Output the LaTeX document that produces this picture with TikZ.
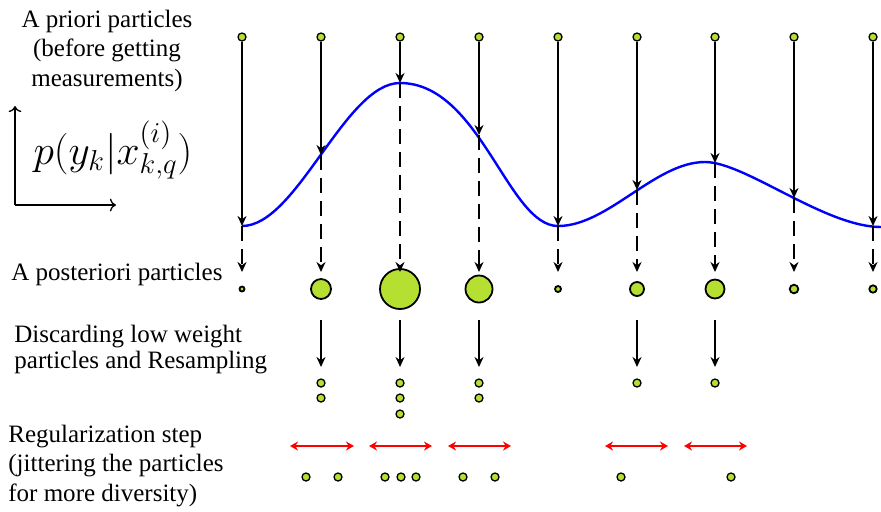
\documentclass[tikz,border=0pt]{standalone}
\usepackage{fontspec}
\setmainfont{Liberation Serif}
\newfontfamily\labelfont{Liberation Serif}
\usetikzlibrary{arrows.meta}
\definecolor{partgreen}{RGB}{181,224,50}
\definecolor{pdfblue}{RGB}{0,0,255}
\definecolor{jitred}{RGB}{255,0,0}

\begin{document}
\begin{tikzpicture}[x=0.5pt, y=-0.5pt]
    \tikzstyle{every node}=[align=center];
    \tikzstyle{txt} = [inner sep=0, font=\labelfont\fontsize{12.5}{14.6}\selectfont]
    \tikzstyle{particle} = [circle, draw, line width=0.65pt, fill=partgreen, inner sep=0, minimum size=4pt]
    \tikzstyle{posterior} = [circle, draw, line width=0.9pt, fill=partgreen, inner sep=0]
    \tikzstyle{flow} = [-{Stealth[length=5pt, width=4.5pt]}, line width=1pt]
    \tikzstyle{weighting} = [flow, dash pattern=on 7.5pt off 4pt]
    \tikzstyle{jitter} = [{Stealth[length=4pt, width=4.5pt]}-{Stealth[length=4pt, width=4.5pt]}, line width=1pt, draw=jitred]
    \tikzstyle{axis} = [->, line width=0.65pt]
    \tikzstyle{density} = [draw=pdfblue, line width=1.2pt]

    \useasboundingbox (0,0) rectangle (881,511);

    % left column texts
    \node[txt, anchor=north] (PrioriText) at (107,10) {A priori particles \\ (before getting \\ measurements)};
    \node[txt, font=\fontsize{20}{24}\selectfont] (Likelihood) at (113,150) {$p(y_k\big|x^{(i)}_{k,q})$};
    \node[txt, anchor=base west] (PosterioriText) at (11,280) {A posteriori particles};
    \node[txt, anchor=north west, align=left] (ResampleText) at (14,325) {Discarding low weight \\[-1.5pt] particles and Resampling};
    \node[txt, anchor=north west, align=left] (RegularText) at (8,425) {Regularization step \\ (jittering the particles \\ for more diversity)};

    \coordinate (Origin) at (15,205);
    \coordinate (YEnd) at (15,106);
    \coordinate (XEnd) at (116,205);
    \draw[axis] (Origin) -- (YEnd);
    \draw[axis] (Origin) -- (XEnd);

    % likelihood curve
    \draw[density] (242,226) .. controls (297,226) and (345,83) .. (400,83)
        .. controls (480,83) and (508,226) .. (558,226)
        .. controls (608,226) and (655,162) .. (705,162)
        .. controls (745,162) and (825,227) .. (881,227);

    % a priori particles
    \node[particle] (Prior1) at (242,37) {};
    \node[particle] (Prior2) at (321,37) {};
    \node[particle] (Prior3) at (400,37) {};
    \node[particle] (Prior4) at (479,37) {};
    \node[particle] (Prior5) at (558,37) {};
    \node[particle] (Prior6) at (637,37) {};
    \node[particle] (Prior7) at (715,37) {};
    \node[particle] (Prior8) at (794,37) {};
    \node[particle] (Prior9) at (873,37) {};

    \coordinate (Curve1) at (242,226);
    \coordinate (Curve2) at (321,155);
    \coordinate (Curve3) at (400,83);
    \coordinate (Curve4) at (479,135);
    \coordinate (Curve5) at (558,226);
    \coordinate (Curve6) at (637,190);
    \coordinate (Curve7) at (715,163);
    \coordinate (Curve8) at (794,198);
    \coordinate (Curve9) at (873,226);

    % a posteriori particles
    \node[posterior, minimum size=2.5pt] (Post1) at (242,289) {};
    \node[posterior, minimum size=10pt] (Post2) at (321,289) {};
    \node[posterior, minimum size=20pt] (Post3) at (400,289) {};
    \node[posterior, minimum size=13.5pt] (Post4) at (479,289) {};
    \node[posterior, minimum size=3pt] (Post5) at (558,289) {};
    \node[posterior, minimum size=7pt] (Post6) at (637,289) {};
    \node[posterior, minimum size=9.5pt] (Post7) at (715,289) {};
    \node[posterior, minimum size=4.3pt] (Post8) at (794,289) {};
    \node[posterior, minimum size=3.7pt] (Post9) at (873,289) {};

    \coordinate (Tip1) at (242,272);
    \coordinate (Tip2) at (321,272);
    \coordinate (Tip3) at (400,272);
    \coordinate (Tip4) at (479,272);
    \coordinate (Tip5) at (558,272);
    \coordinate (Tip6) at (637,272);
    \coordinate (Tip7) at (715,272);
    \coordinate (Tip8) at (794,272);
    \coordinate (Tip9) at (873,272);

    \draw[flow] (Prior1) -- (Curve1);
    \draw[flow] (Prior2) -- (Curve2);
    \draw[flow] (Prior3) -- (Curve3);
    \draw[flow] (Prior4) -- (Curve4);
    \draw[flow] (Prior5) -- (Curve5);
    \draw[flow] (Prior6) -- (Curve6);
    \draw[flow] (Prior7) -- (Curve7);
    \draw[flow] (Prior8) -- (Curve8);
    \draw[flow] (Prior9) -- (Curve9);

    \draw[weighting] (Curve1) -- (Tip1);
    \draw[weighting] (Curve2) -- (Tip2);
    \draw[weighting] (Curve3) -- (Tip3);
    \draw[weighting] (Curve4) -- (Tip4);
    \draw[weighting] (Curve5) -- (Tip5);
    \draw[weighting] (Curve6) -- (Tip6);
    \draw[weighting] (Curve7) -- (Tip7);
    \draw[weighting] (Curve8) -- (Tip8);
    \draw[weighting] (Curve9) -- (Tip9);

    % resampling
    \coordinate (From2) at (321,320);  \coordinate (To2) at (321,367);
    \coordinate (From3) at (400,320);  \coordinate (To3) at (400,367);
    \coordinate (From4) at (479,320);  \coordinate (To4) at (479,367);
    \coordinate (From6) at (637,320);  \coordinate (To6) at (637,367);
    \coordinate (From7) at (715,320);  \coordinate (To7) at (715,367);
    \draw[flow] (From2) -- (To2);
    \draw[flow] (From3) -- (To3);
    \draw[flow] (From4) -- (To4);
    \draw[flow] (From6) -- (To6);
    \draw[flow] (From7) -- (To7);

    \node[particle] (Res2a) at (321,383) {};
    \node[particle] (Res2b) at (321,398) {};
    \node[particle] (Res3a) at (400,383) {};
    \node[particle] (Res3b) at (400,398) {};
    \node[particle] (Res3c) at (400,414) {};
    \node[particle] (Res4a) at (479,383) {};
    \node[particle] (Res4b) at (479,398) {};
    \node[particle] (Res6a) at (637,383) {};
    \node[particle] (Res7a) at (715,383) {};

    % regularization
    \coordinate (JitL2) at (290,446);  \coordinate (JitR2) at (354,446);
    \coordinate (JitL3) at (369,446);  \coordinate (JitR3) at (432,446);
    \coordinate (JitL4) at (448,446);  \coordinate (JitR4) at (511,446);
    \coordinate (JitL6) at (605,446);  \coordinate (JitR6) at (668,446);
    \coordinate (JitL7) at (684,446);  \coordinate (JitR7) at (747,446);
    \draw[jitter] (JitL2) -- (JitR2);
    \draw[jitter] (JitL3) -- (JitR3);
    \draw[jitter] (JitL4) -- (JitR4);
    \draw[jitter] (JitL6) -- (JitR6);
    \draw[jitter] (JitL7) -- (JitR7);

    \node[particle] (Reg2a) at (306,477) {};
    \node[particle] (Reg2b) at (338,477) {};
    \node[particle] (Reg3a) at (385,477) {};
    \node[particle] (Reg3b) at (401,477) {};
    \node[particle] (Reg3c) at (416,477) {};
    \node[particle] (Reg4a) at (463,477) {};
    \node[particle] (Reg4b) at (495,477) {};
    \node[particle] (Reg6a) at (621,477) {};
    \node[particle] (Reg7a) at (731,477) {};

\end{tikzpicture}
\end{document}
